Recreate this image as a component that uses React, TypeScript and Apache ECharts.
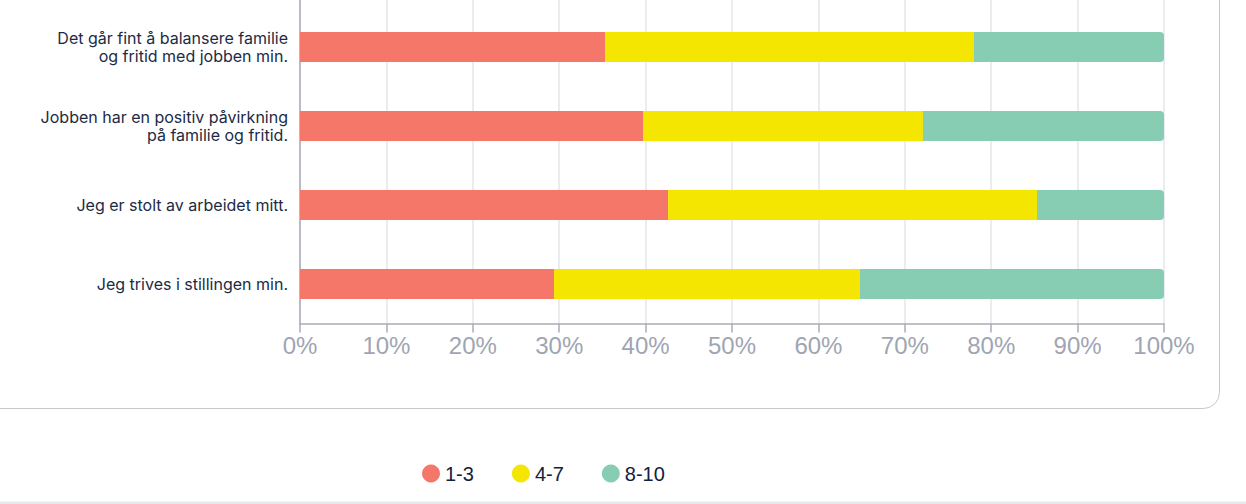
import React, { useEffect, useRef } from "react";
import * as echarts from "echarts";

// Data (top-to-bottom as shown in the chart)
const categories = [
  "Det går fint å balansere familie\nog fritid med jobben min.",
  "Jobben har en positiv påvirkning\npå familie og fritid.",
  "Jeg er stolt av arbeidet mitt.",
  "Jeg trives i stillingen min.",
];
const low = [35.3, 39.7, 42.6, 29.4]; // 1-3
const mid = [42.7, 32.4, 42.7, 35.4]; // 4-7
const high = [22.0, 27.9, 14.7, 35.2]; // 8-10
const seriesNames = ["1-3", "4-7", "8-10"];
const colors = ["#f47769", "#f4e600", "#86cdb3"];

// the chart canvas starts above the visible window (the card is cut off at the top)
const SHIFT = 80;

export default function App() {
  const ref = useRef<HTMLDivElement>(null);
  useEffect(() => {
    if (!ref.current) return;
    const chart = echarts.init(ref.current, undefined, { renderer: "svg" });
    const cats = categories.slice().reverse();
    const data = [low, mid, high].map((a) => a.slice().reverse());
    chart.setOption({
      animation: false,
      backgroundColor: "#ffffff",
      grid: { left: 300, right: 82, top: SHIFT - 71.5, bottom: 180.5 },
      legend: {
        left: 417,
        top: SHIFT + 458.5,
        icon: "circle",
        itemWidth: 18,
        itemHeight: 18,
        itemGap: 38,
        textStyle: {
          fontSize: 20,
          color: "#0f2340",
          fontFamily: "Liberation Sans",
        },
        data: seriesNames,
      },
      xAxis: {
        type: "value",
        min: 0,
        max: 100,
        interval: 10,
        axisLine: { show: true, lineStyle: { color: "#a9adb9", width: 1.5 } },
        axisTick: { show: true, length: 9, lineStyle: { color: "#a9adb9", width: 1.5 } },
        splitLine: { show: true, lineStyle: { color: "#e5e6ea", width: 1.5 } },
        axisLabel: {
          formatter: "{value}%",
          fontSize: 24,
          color: "#a0a5b2",
          margin: 10,
          fontFamily: "Liberation Sans",
        },
      },
      yAxis: {
        type: "category",
        data: cats,
        max: 4,
        axisLine: { show: true, lineStyle: { color: "#a9adb9", width: 1.5 } },
        axisTick: { show: false },
        splitLine: { show: false },
        axisLabel: {
          formatter: (v: string) => (v ? v : ""),
          fontSize: 16,
          lineHeight: 18.5,
          color: "#1c2b45",
          margin: 12,
          align: "right",
          fontFamily: "Inter",
        },
      },
      graphic: [
        {
          type: "rect",
          z: -10,
          silent: true,
          shape: { x: -20, y: SHIFT - 20, width: 1239.5, height: 428.5, r: 16 },
          style: { fill: "none", stroke: "#c6c9ce", lineWidth: 1 },
        },
        {
          type: "rect",
          z: -10,
          silent: true,
          shape: { x: 0, y: SHIFT + 501.5, width: 1246, height: 3 },
          style: { fill: "#e7e9ec" },
        },
      ],
      series: seriesNames.map((name, i) => ({
        name,
        type: "bar",
        stack: "total",
        barWidth: 30,
        data: data[i],
        itemStyle: {
          color: colors[i],
          borderRadius: i === 2 ? [0, 4, 4, 0] : 0,
        },
      })),
    });
    return () => chart.dispose();
  }, []);
  return (
    <div
      ref={ref}
      style={{ position: "fixed", left: 0, top: -SHIFT, width: 1246, height: 504 + SHIFT }}
    />
  );
}
